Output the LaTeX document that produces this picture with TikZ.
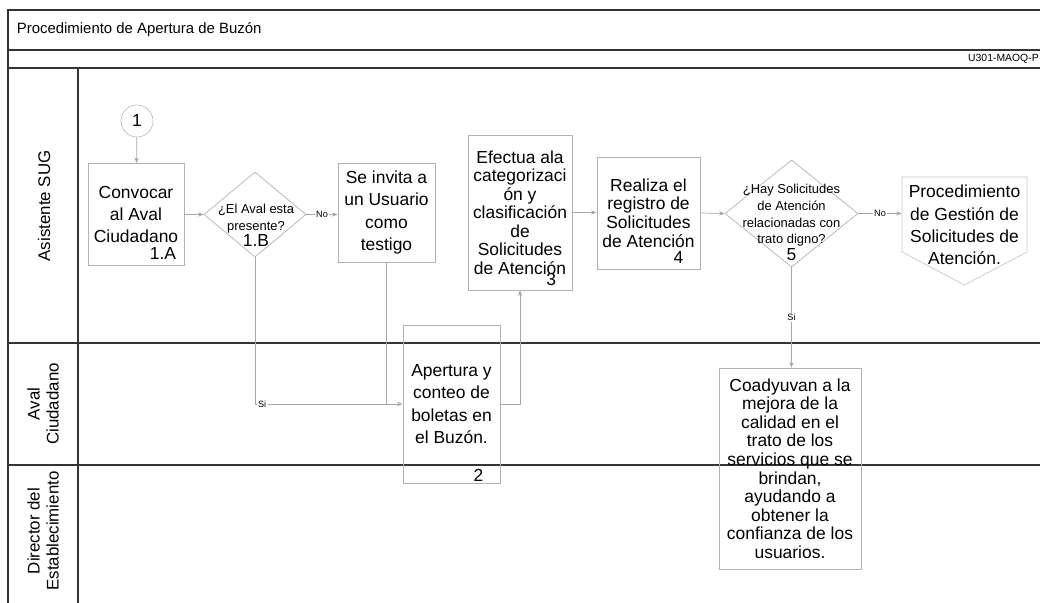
\documentclass[tikz,border=0pt]{standalone}
\usepackage{fontspec}
\setmainfont{Liberation Sans}
\usetikzlibrary{shapes.geometric,arrows.meta,positioning,calc}

\tikzset{
  lane/.style={line width=1.1pt,draw=black!80},
  box/.style={draw=gray!60,line width=0.5pt,align=center,inner sep=1pt},
  boxtight/.style={box,font=\fontsize{12.4}{13.2}\selectfont},
  decision/.style={draw=gray!60,line width=0.5pt,diamond,inner sep=0pt},
  qtext/.style={align=center,font=\fontsize{9.2}{11.9}\selectfont},
  num/.style={font=\fontsize{12.4}{13}\selectfont,inner sep=0pt},
  flow/.style={draw=gray!70,line width=0.5pt,-{Stealth[length=4pt]}},
  tag/.style={font=\fontsize{6.5}{7}\selectfont,fill=white,inner sep=1pt},
  lanetitle/.style={rotate=90,align=center,font=\fontsize{12}{13.5}\selectfont}
}

\begin{document}
\begin{tikzpicture}[x=0.025cm,y=-0.025cm,font=\fontsize{12.4}{15.8}\selectfont]
    \useasboundingbox (0,0) rectangle (1040,603);

    % swimlane frame
    \draw[lane] (8,603) -- (8,10) -- (1040,10);
    \foreach \y in {50,68,343,465}
        \draw[lane] (8,\y) -- (1040,\y);
    \draw[lane] (78,68) -- (78,603);

    \node[anchor=west,font=\fontsize{10.6}{12}\selectfont] (title) at (12,30) {Procedimiento de Apertura de Buzón};
    \node[anchor=east,font=\fontsize{7.4}{8}\selectfont,inner sep=0pt] (code) at (1039,59) {U301-MAOQ-P};

    \node[lanetitle] (sug) at (44,206) {Asistente SUG};
    \node[lanetitle] (aval) at (43,404) {Aval\\Ciudadano};
    \node[lanetitle] (dir) at (43,531) {Director del\\Establecimiento};

    % steps
    \node[draw=gray!60,circle,minimum size=0.8cm,inner sep=0pt] (c1) at (137,121) {1};
    \node[box,minimum width=2.4cm,minimum height=2.55cm] (a1) at (136,214.5) {Convocar\\al Aval\\Ciudadano};
    \node[num,above left=0.15cm and 0.2cm of a1.south east] (n1a) {1.A};
    \node[decision,minimum width=2.55cm,minimum height=2.125cm] (d1) at (255,214.5) {};
    \node[qtext] (d1t) at ($(d1)+(1,11)$) {¿El Aval esta\\presente?\\{\fontsize{12.4}{14}\selectfont 1.B}};
    \node[box,minimum width=2.425cm,minimum height=2.475cm] (b1) at (386.5,212.5) {Se invita a\\un Usuario\\como\\testigo};
    \node[box,minimum width=2.425cm,minimum height=3.95cm] (b2) at (451.5,404) {Apertura y\\conteo de\\boletas en\\el Buzón.};
    \node[num,above left=0.05cm and 0.42cm of b2.south east] (n2) {2};
    \node[boxtight,minimum width=2.6cm,minimum height=3.875cm] (b3) at (520,212.5) {Efectua ala\\categorizaci\\ón y\\clasificación\\de\\Solicitudes\\de Atención};
    \node[num,above left=0.1cm and 0.4cm of b3.south east] (n3) {3};
    \node[boxtight,minimum width=2.575cm,minimum height=2.8cm] (b4) at (648.5,213) {Realiza el\\registro de\\Solicitudes\\de Atención};
    \node[num,above left=0.15cm and 0.42cm of b4.south east] (n4) {4};
    \node[decision,minimum width=3.325cm,minimum height=2.675cm] (d5) at (791.5,213.5) {};
    \node[qtext] (d5t) at ($(d5)+(0,9)$) {¿Hay Solicitudes\\de Atención\\relacionadas con\\trato digno?\\{\fontsize{12.4}{14}\selectfont 5}};
    \node[align=center,inner sep=0pt,minimum width=3.125cm] (p1) at (964.5,225) {Procedimiento\\de Gestión de\\Solicitudes de\\Atención.};
    \draw[draw=gray!45,line width=0.5pt] ($(p1)+(-62.5,-48)$) -- ($(p1)+(62.5,-48)$) -- ($(p1)+(62.5,27)$)
        -- ($(p1)+(0,60)$) -- ($(p1)+(-62.5,27)$) -- cycle;
    \node[boxtight,minimum width=3.55cm,minimum height=5.025cm] (b5) at (790,468.5) {Coadyuvan a la\\mejora de la\\calidad en el\\trato de los\\servicios que se\\brindan,\\ayudando a\\obtener la\\confianza de los\\usuarios.};

    % connectors
    \draw[flow] (c1) -- (a1);
    \draw[flow] (a1) -- (d1);
    \draw[flow] (d1.east) -- (d1.east -| b1.west) node[tag,midway] {No};
    \draw[flow] (d1.south) |- (b2.west) node[tag,pos=0.524] {Si};
    \draw[draw=gray!70,line width=0.5pt] (b1.south) -- (b1.south |- b2.west);
    \draw[flow] (b2.east) -| (b3.south);
    \draw[flow] (b3.east) -- (b3.east -| b4.west);
    \draw[flow] (b4.east) -- (d5.west);
    \draw[flow] (d5.east) -- (d5.east -| p1.west) node[tag,midway] {No};
    \draw[flow] (d5.south) -- (d5.south |- b5.north) node[tag,midway] {Si};
\end{tikzpicture}
\end{document}
